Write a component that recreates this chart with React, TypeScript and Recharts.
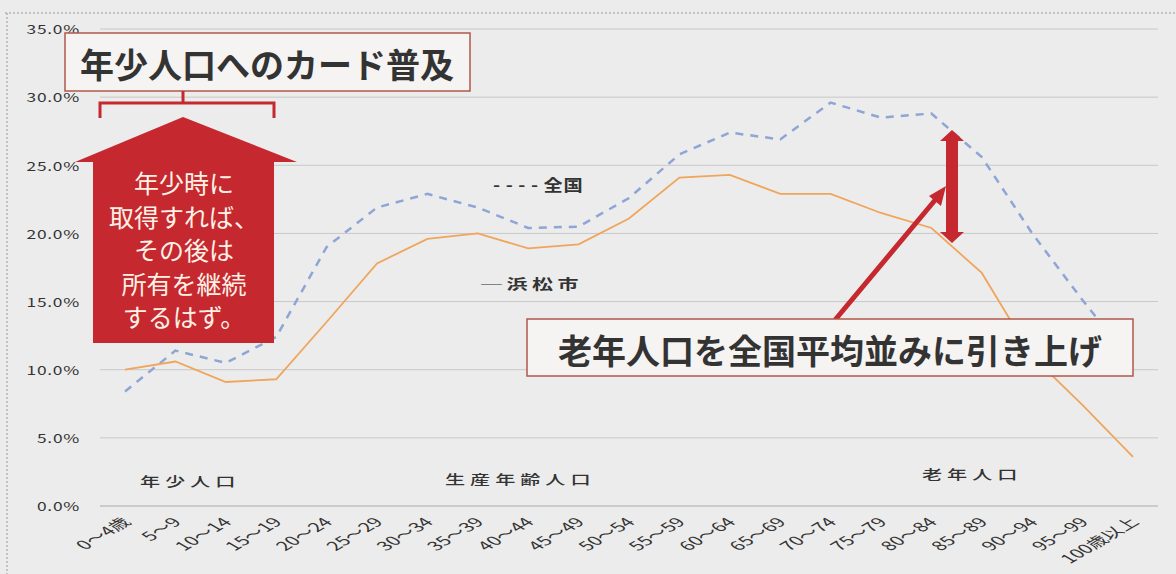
import React from 'react';
import { LineChart, Line, XAxis, YAxis, CartesianGrid } from 'recharts';

const ageGroups = [
  '0～4歳', '5～9', '10～14', '15～19', '20～24', '25～29', '30～34', '35～39', '40～44', '45～49',
  '50～54', '55～59', '60～64', '65～69', '70～74', '75～79', '80～84', '85～89', '90～94', '95～99', '100歳以上',
];
// 浜松市 (solid orange)
const hamamatsu = [10.0, 10.6, 9.1, 9.3, 13.5, 17.8, 19.6, 20.0, 18.9, 19.2, 21.1, 24.1, 24.3, 22.9, 22.9, 21.5, 20.4, 17.1, 11.0, 7.4, 3.6];
// 全国 (dashed blue)
const zenkoku = [8.4, 11.4, 10.5, 12.4, 19.0, 21.9, 22.9, 21.9, 20.4, 20.5, 22.6, 25.8, 27.4, 26.9, 29.6, 28.5, 28.8, 25.6, 20.0, 15.1, 10.5];
const yTicks = [0, 5, 10, 15, 20, 25, 30, 35];

const data = ageGroups.map((age, i) => ({ age, hamamatsu: hamamatsu[i], zenkoku: zenkoku[i] }));

const W = 1176;
const H = 574;
const RED = '#c5282f';
const FONT = "'Noto Sans CJK JP', 'DejaVu Sans', sans-serif";

// the scanned chart is stretched sideways, so its own texts are drawn wide
const Wide = ({ x, y, sx = 1.5, children, ...rest }: any) => (
  <text transform={`translate(${x},${y}) scale(${sx},1)`} fontFamily={FONT} fill="#333" {...rest}>
    {children}
  </text>
);

const AgeTick = (props: any) => {
  const { x, y, payload } = props;
  return (
    <g transform={`translate(${x + 7},${y + 9}) scale(1.7,1) rotate(-45)`}>
      <text x={0} y={0} textAnchor="end" fontSize={12.5} fill="#333" fontFamily={FONT}>
        {payload.value}
      </text>
    </g>
  );
};

const PctTick = (props: any) => {
  const { y, payload } = props;
  return (
    <Wide x={80} y={y} sx={1.45} textAnchor="end" dominantBaseline="central" fontSize={12} letterSpacing={0.5}>
      {`${Number(payload.value).toFixed(1)}%`}
    </Wide>
  );
};

const Overlay = () => (
  <svg width={W} height={H} style={{ position: 'absolute', left: 0, top: 0, pointerEvents: 'none' }} fontFamily={FONT}>
    {/* frame */}
    <line x1={5} y1={13} x2={W} y2={13} stroke="#999" strokeDasharray="2 2" />
    <line x1={7} y1={13} x2={7} y2={H} stroke="#999" strokeDasharray="2 2" />

    {/* top caption box */}
    <rect x={65} y={33} width={405} height={58} fill="#f5f4f2" stroke="#b0584a" strokeWidth={1.5} />
    <text x={267} y={63} textAnchor="middle" dominantBaseline="central" fontSize={34} fontWeight={700} fill="#333">
      年少人口へのカード普及
    </text>

    {/* bracket */}
    <path d="M100,118 L100,103 L274,103 L274,118 M183,103 L183,91" fill="none" stroke={RED} strokeWidth={3} />

    {/* house-shaped arrow */}
    <path d="M183,117 L297,162 L274,162 L274,343 L93,343 L93,162 L75,162 Z" fill={RED} />
    {['年少時に', '取得すれば、', 'その後は', '所有を継続', 'するはず。'].map((t, i) => (
      <text key={t} x={184} y={182 + i * 33.5} textAnchor="middle" dominantBaseline="central" fontSize={25} fill="#fdf1e6">
        {t}
      </text>
    ))}

    {/* series labels */}
    <Wide x={493} y={184} sx={1.2} dominantBaseline="central" fontSize={16} fontWeight={700} letterSpacing={0.5}>
      - - - - 全国
    </Wide>
    <Wide x={481} y={283} sx={1.5} dominantBaseline="central" fontSize={14} fontWeight={700} letterSpacing={3}>
      ─浜松市
    </Wide>

    {/* population group labels */}
    <Wide x={140} y={480} sx={1.55} dominantBaseline="central" fontSize={13} fontWeight={500} letterSpacing={3.2}>年少人口</Wide>
    <Wide x={445} y={478} sx={1.55} dominantBaseline="central" fontSize={13} fontWeight={500} letterSpacing={3.2}>生産年齢人口</Wide>
    <Wide x={922} y={473} sx={1.55} dominantBaseline="central" fontSize={13} fontWeight={500} letterSpacing={3.2}>老年人口</Wide>

    {/* diagonal arrow */}
    <line x1={835} y1={320} x2={936} y2={199} stroke={RED} strokeWidth={5} />
    <path d="M946,186 L941,206 L929,196 Z" fill={RED} />

    {/* double arrow */}
    <path d="M952,130 L964,141 L958,141 L958,232 L964,232 L952,243 L940,232 L946,232 L946,141 L940,141 Z" fill={RED} />

    {/* bottom caption box */}
    <rect x={527} y={319} width={606} height={57} fill="#f5f4f2" stroke="#b0584a" strokeWidth={1.5} />
    <text x={830} y={349} textAnchor="middle" dominantBaseline="central" fontSize={34} fontWeight={700} fill="#333">
      老年人口を全国平均並みに引き上げ
    </text>
  </svg>
);

export default function App() {
  return (
    <div style={{ position: 'absolute', left: 0, top: 0, width: W, height: H, background: '#ececec', overflow: 'hidden' }}>
      <LineChart width={W} height={H} data={data} margin={{ top: 29, right: 18, left: 20, bottom: 8 }}>
        <CartesianGrid vertical={false} stroke="#c8c8c8" />
        <XAxis
          dataKey="age"
          padding={{ left: 25, right: 25 }}
          tick={<AgeTick />}
          tickLine={false}
          axisLine={{ stroke: '#bbb' }}
          interval={0}
          height={60}
        />
        <YAxis domain={[0, 35]} ticks={yTicks} width={80} axisLine={false} tickLine={false} tick={<PctTick />} />
        <Line
          type="linear"
          dataKey="zenkoku"
          stroke="#8ea5d6"
          strokeWidth={2.5}
          strokeDasharray="8 7"
          dot={false}
          isAnimationActive={false}
        />
        <Line
          type="linear"
          dataKey="hamamatsu"
          stroke="#f0a55c"
          strokeWidth={1.8}
          dot={false}
          isAnimationActive={false}
        />
      </LineChart>
      <Overlay />
    </div>
  );
}
